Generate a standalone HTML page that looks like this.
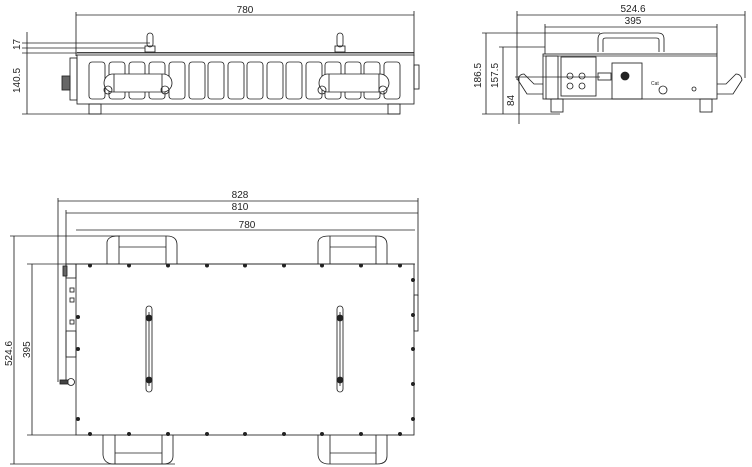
<!DOCTYPE html>
<html><head><meta charset="utf-8"><style>
html,body{margin:0;padding:0;background:#fff;width:752px;height:467px;overflow:hidden}
svg{display:block}
text{font-family:"Liberation Sans",sans-serif;font-size:10px;fill:#222}
</style></head><body>
<svg width="752" height="467" viewBox="0 0 752 467" xmlns="http://www.w3.org/2000/svg" fill="none" stroke="#222" stroke-width="0.85">
<!-- ===== FRONT VIEW (top-left) ===== -->
<line x1="76" y1="12" x2="76" y2="56"/><line x1="414" y1="11" x2="414" y2="56"/>
<line x1="76" y1="15" x2="414" y2="15"/>
<text x="245" y="13" text-anchor="middle" stroke="none">780</text>
<line x1="27" y1="32" x2="27" y2="114"/>
<line x1="22" y1="43" x2="150" y2="43"/><line x1="22" y1="48" x2="145" y2="48"/>
<line x1="22" y1="53" x2="414" y2="53"/><line x1="22" y1="114" x2="400" y2="114"/>
<text transform="translate(20,50) rotate(-90)" stroke="none">17</text>
<text transform="translate(20,93) rotate(-90)" stroke="none">140.5</text>
<rect x="77" y="55" width="337" height="49"/>
<line x1="77" y1="52.5" x2="414" y2="52.5"/>
<g>
<rect x="89" y="62" width="16" height="37" rx="3"/><rect x="109" y="62" width="16" height="37" rx="3"/>
<rect x="129" y="62" width="16" height="37" rx="3"/><rect x="149" y="62" width="16" height="37" rx="3"/>
<rect x="169" y="62" width="16" height="37" rx="3"/><rect x="189" y="62" width="16" height="37" rx="3"/>
<rect x="208" y="62" width="16" height="37" rx="3"/><rect x="228" y="62" width="16" height="37" rx="3"/>
<rect x="247" y="62" width="16" height="37" rx="3"/><rect x="267" y="62" width="16" height="37" rx="3"/>
<rect x="286" y="62" width="16" height="37" rx="3"/><rect x="306" y="62" width="16" height="37" rx="3"/>
<rect x="325" y="62" width="16" height="37" rx="3"/><rect x="345" y="62" width="16" height="37" rx="3"/>
<rect x="364" y="62" width="16" height="37" rx="3"/><rect x="384" y="62" width="16" height="37" rx="3"/>
</g>
<rect x="104" y="74" width="68" height="18" rx="9" fill="#fff"/><line x1="114" y1="74" x2="114" y2="92"/><line x1="162" y1="74" x2="162" y2="92"/>
<rect x="319" y="74" width="70" height="18" rx="9" fill="#fff"/><line x1="329" y1="74" x2="329" y2="92"/><line x1="379" y1="74" x2="379" y2="92"/>
<circle cx="108" cy="90" r="4"/><circle cx="165" cy="90" r="4"/><circle cx="322" cy="90" r="4"/><circle cx="383" cy="90" r="4"/>
<rect x="147" y="33" width="6" height="14" rx="3"/><rect x="145" y="46" width="10" height="6"/>
<rect x="337" y="33" width="6" height="14" rx="3"/><rect x="335" y="46" width="10" height="6"/>
<rect x="89" y="104" width="12" height="10"/><rect x="388" y="104" width="12" height="10"/>
<rect x="70" y="58" width="7" height="42"/><rect x="62" y="76" width="8" height="14" fill="#666"/>
<rect x="414" y="65" width="5" height="24"/>
<!-- ===== SIDE VIEW (top-right) ===== -->
<line x1="517" y1="11" x2="517" y2="80"/><line x1="745" y1="11" x2="745" y2="78"/>
<line x1="517" y1="15" x2="745" y2="15"/>
<text x="633" y="12" text-anchor="middle" stroke="none">524.6</text>
<line x1="545" y1="24" x2="545" y2="54"/><line x1="717" y1="24" x2="717" y2="54"/>
<line x1="545" y1="27" x2="717" y2="27"/>
<text x="633" y="24" text-anchor="middle" stroke="none">395</text>
<line x1="486" y1="33" x2="486" y2="114"/><line x1="503" y1="47" x2="503" y2="114"/><line x1="519" y1="76" x2="519" y2="124"/>
<line x1="482" y1="33" x2="600" y2="33"/><line x1="499" y1="47" x2="545" y2="47"/>
<line x1="515" y1="77" x2="600" y2="77"/><line x1="482" y1="114" x2="560" y2="114"/>
<text transform="translate(481,88) rotate(-90)" stroke="none">186.5</text>
<text transform="translate(498,88) rotate(-90)" stroke="none">157.5</text>
<text transform="translate(514,106) rotate(-90)" stroke="none">84</text>
<rect x="543" y="54" width="174" height="45"/>
<line x1="543" y1="56" x2="717" y2="56"/>
<path d="M598 52 V39 Q598 33 604 33 H658 Q664 33 664 39 V52"/>
<path d="M603 52 V40 Q603 38 606 38 H656 Q659 38 659 40 V52"/>
<rect x="546" y="56" width="12" height="43"/><rect x="561" y="57" width="35" height="39"/>
<rect x="612" y="63" width="30" height="36"/><circle cx="625" cy="76" r="4" fill="#222"/>
<circle cx="570" cy="76" r="3"/><circle cx="582" cy="76" r="3"/><circle cx="570" cy="86" r="3"/><circle cx="582" cy="86" r="3"/>
<circle cx="663" cy="90" r="4"/><circle cx="694" cy="89" r="2"/>
<text x="651" y="85" stroke="none" style="font-size:5px">Cat</text>
<rect x="598" y="73" width="13" height="7"/>
<path d="M543 84 H534 L524 74 Q519 74 518 80 L527 94 H543"/>
<path d="M717 84 H726 L736 74 Q741 74 742 80 L733 94 H717"/>
<rect x="551" y="99" width="12" height="13"/><rect x="700" y="99" width="12" height="13"/>
<!-- ===== TOP VIEW (bottom) ===== -->
<line x1="58" y1="198" x2="58" y2="382"/><line x1="66" y1="210" x2="66" y2="380"/>
<line x1="418" y1="198" x2="418" y2="296"/>
<line x1="58" y1="201" x2="418" y2="201"/>
<text x="240" y="198" text-anchor="middle" stroke="none">828</text>
<line x1="66" y1="213" x2="418" y2="213"/>
<text x="240" y="210" text-anchor="middle" stroke="none">810</text>
<line x1="76" y1="230" x2="415" y2="230"/>
<text x="247" y="228" text-anchor="middle" stroke="none">780</text>
<line x1="10" y1="236" x2="120" y2="236"/><line x1="10" y1="464" x2="175" y2="464"/>
<line x1="14" y1="236" x2="14" y2="464"/>
<text transform="translate(12,366) rotate(-90)" stroke="none">524.6</text>
<line x1="27" y1="264" x2="415" y2="264"/><line x1="27" y1="435" x2="76" y2="435"/>
<line x1="32" y1="264" x2="32" y2="435"/>
<text transform="translate(30,358) rotate(-90)" stroke="none">395</text>
<rect x="76" y="264" width="338" height="171"/>
<g fill="#222" stroke="none">
<circle cx="90" cy="265.5" r="2"/><circle cx="129" cy="265.5" r="2"/><circle cx="168" cy="265.5" r="2"/><circle cx="207" cy="265.5" r="2"/><circle cx="245" cy="265.5" r="2"/><circle cx="284" cy="265.5" r="2"/><circle cx="322" cy="265.5" r="2"/><circle cx="361" cy="265.5" r="2"/><circle cx="400" cy="265.5" r="2"/>
<circle cx="90" cy="434" r="2"/><circle cx="129" cy="434" r="2"/><circle cx="168" cy="434" r="2"/><circle cx="207" cy="434" r="2"/><circle cx="245" cy="434" r="2"/><circle cx="284" cy="434" r="2"/><circle cx="322" cy="434" r="2"/><circle cx="361" cy="434" r="2"/><circle cx="400" cy="434" r="2"/>
<circle cx="413" cy="280" r="2"/><circle cx="413" cy="315" r="2"/><circle cx="413" cy="349" r="2"/><circle cx="413" cy="384" r="2"/><circle cx="413" cy="419" r="2"/>
<circle cx="78" cy="317" r="2"/><circle cx="78" cy="349" r="2"/><circle cx="78" cy="419" r="2"/>
</g>
<path d="M107 264 V242 Q108 236 118 236 H167 Q177 236 177 245 V264"/>
<line x1="119" y1="236" x2="119" y2="264"/><line x1="166" y1="236" x2="166" y2="264"/><line x1="119" y1="247" x2="166" y2="247"/>
<path d="M318 264 V242 Q319 236 329 236 H377 Q387 236 387 245 V264"/>
<line x1="330" y1="236" x2="330" y2="264"/><line x1="376" y1="236" x2="376" y2="264"/><line x1="330" y1="247" x2="376" y2="247"/>
<path d="M103 435 V455 Q104 464 114 464 H163 Q173 464 173 456 V435"/>
<line x1="115" y1="435" x2="115" y2="464"/><line x1="162" y1="435" x2="162" y2="464"/><line x1="115" y1="453" x2="162" y2="453"/>
<path d="M318 435 V455 Q319 464 329 464 H377 Q387 464 387 456 V435"/>
<line x1="330" y1="435" x2="330" y2="464"/><line x1="376" y1="435" x2="376" y2="464"/><line x1="330" y1="453" x2="376" y2="453"/>
<rect x="146" y="306" width="6" height="86" rx="3"/><line x1="149" y1="312" x2="149" y2="386"/>
<circle cx="149" cy="318" r="3" fill="#222"/><circle cx="149" cy="380" r="3" fill="#222"/>
<rect x="337" y="306" width="6" height="86" rx="3"/><line x1="340" y1="312" x2="340" y2="386"/>
<circle cx="340" cy="318" r="3" fill="#222"/><circle cx="340" cy="380" r="3" fill="#222"/>
<rect x="414" y="295" width="4" height="36"/>
<rect x="66" y="264" width="10" height="14"/><rect x="63" y="266" width="4" height="10" fill="#666"/>
<rect x="66" y="331" width="10" height="26"/>
<rect x="70" y="288" width="4" height="4"/><rect x="70" y="298" width="4" height="4"/><rect x="70" y="320" width="4" height="4"/>
<circle cx="71" cy="382" r="3.5"/><rect x="60" y="380" width="8" height="4" fill="#444"/>
</svg>
</body></html>
